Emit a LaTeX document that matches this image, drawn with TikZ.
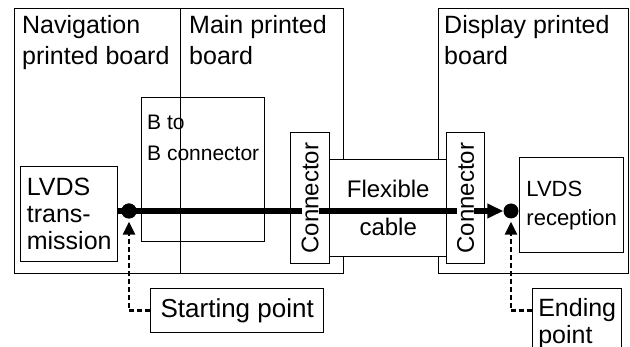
\documentclass[tikz,border=0pt]{standalone}
\usepackage{fontspec}
\setmainfont{Liberation Sans}
\usetikzlibrary{arrows.meta}
\begin{document}
\begin{tikzpicture}[
x=1pt, y=-1pt,
board/.style={
    draw,
    line width=1.4pt,
    anchor=north west,
    inner sep=0pt
},
part/.style={
    draw,
    line width=1.4pt,
    fill=white,
    align=left,
    inner sep=0pt
},
tag/.style={
    anchor=north west,
    align=left,
    inner sep=0pt
},
dot/.style={circle, fill, minimum size=15pt, inner sep=0pt},
signal/.style={line width=6pt, -{Triangle[length=16pt,width=14pt]}},
pointer/.style={line width=2.4pt, dash pattern=on 5pt off 3pt,
    -{Triangle[length=13pt,width=12pt]}, shorten >=3pt}
]

\useasboundingbox (0,0) rectangle (630,347);

\node[board, minimum width=166pt, minimum height=265pt] (nav) at (14,8) {};
\node[board, minimum width=163pt, minimum height=265pt] (main) at (180,8) {};
\node[board, minimum width=190pt, minimum height=265pt] (disp) at (438,8) {};

\node[tag, font=\fontsize{25}{31}\selectfont] (navtag) at (22,15) {Navigation\\printed board};
\node[tag, font=\fontsize{25}{31}\selectfont] (maintag) at (189,15) {Main printed\\board};
\node[tag, font=\fontsize{25}{31}\selectfont] (disptag) at (444,15) {Display printed\\board};

\node[board, minimum width=123pt, minimum height=144pt] (btob) at (141,97) {};
\node[tag, font=\fontsize{21}{31}\selectfont] (btobtag) at (147,115) {B to\\B connector};

\node[part, anchor=north west, minimum width=97pt, minimum height=95pt,
    font=\fontsize{25}{27}\selectfont] (lvdstx) at (20,166) {LVDS\\trans-\\mission};
\node[part, anchor=north west, minimum width=104pt, minimum height=95pt,
    font=\fontsize{22}{29}\selectfont] (lvdsrx) at (519,157) {LVDS\\reception};

\node[part, anchor=north west, align=center, minimum width=117pt, minimum height=97pt,
    font=\fontsize{24}{38}\selectfont] (flex) at (329,159) {Flexible\\cable};

\node[part, anchor=north west, minimum width=39pt, minimum height=131pt] (connl) at (290,132) {};
\node[part, anchor=north west, minimum width=38pt, minimum height=131pt] (connr) at (446,132) {};

\node[dot] (start) at (129,211) {};
\node[dot] (end) at (511,211) {};

\draw[signal] (lvdstx.east |- start) -- (end.west);
\node[dot] at (start) {};

\node[rotate=90, fill=white, inner sep=0pt, font=\fontsize{24}{24}\selectfont] (connltag) at (connl) {Connector};
\node[rotate=90, fill=white, inner sep=0pt, font=\fontsize{24}{24}\selectfont] (connrtag) at (connr) {Connector};

\node[part, anchor=north west, minimum width=173pt, minimum height=44pt,
    font=\fontsize{26}{30}\selectfont] (startlbl) at (150,288) {Starting point};
\node[part, anchor=north west, minimum width=89pt, minimum height=70pt,
    font=\fontsize{25}{27}\selectfont] (endlbl) at (532,288) {Ending\\point};

\draw[pointer] (startlbl.west) -| (start.south);
\draw[pointer] (endlbl.west |- startlbl.west) -| (end.south);

\end{tikzpicture}
\end{document}
